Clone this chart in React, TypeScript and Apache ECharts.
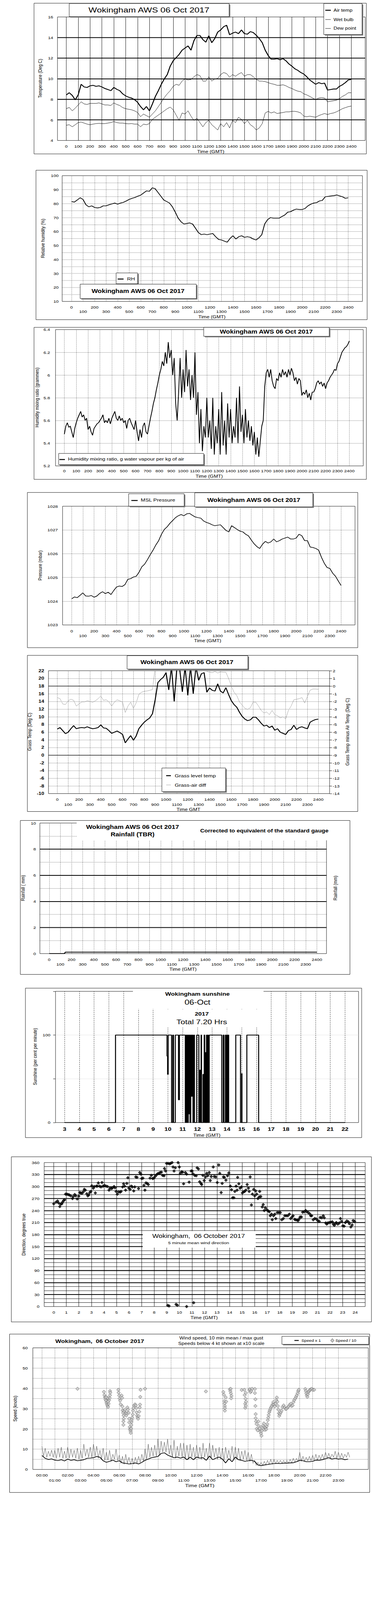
import React, { useEffect, useRef, useState } from 'react';
import * as echarts from 'echarts';

const FONT = '"Liberation Sans", Arial, Helvetica, sans-serif';

// ---------------- DATA ----------------
const HOURS_0_24 = [0, 1, 2, 3, 4, 5, 6, 7, 8, 9, 10, 11, 12, 13, 14, 15, 16, 17, 18, 19, 20, 21, 22, 23, 24];
const HOURS_0_23 = [0, 1, 2, 3, 4, 5, 6, 7, 8, 9, 10, 11, 12, 13, 14, 15, 16, 17, 18, 19, 20, 21, 22, 23];
const HOURS_3_22 = [3, 4, 5, 6, 7, 8, 9, 10, 11, 12, 13, 14, 15, 16, 17, 18, 19, 20, 21, 22];

// Temperatures, one value every 15 minutes from 00:00 to 24:00
const TEMP_STEP_H = 0.25;
const airTemp = [8.43, 8.64, 8.38, 7.95, 8.43, 9.46, 9.2, 9.15, 9.31, 9.36, 9.26, 9.31, 9.2, 9.05, 8.95, 8.84, 9.15, 8.97, 8.84, 8.53, 8.33, 8.2, 8.12, 7.97, 7.71, 7.3, 6.98, 7.3, 6.88, 7.55, 8.28, 8.84, 9.46, 9.98, 10.4, 11.22, 11.74, 12.05, 12.36, 12.77, 12.98, 13.19, 12.77, 13.7, 14.2, 14.2, 13.8, 13.55, 14.17, 13.5, 13.9, 14.53, 14.74, 15.05, 15.2, 14.27, 14.43, 14.53, 14.38, 14.74, 14.38, 14.33, 14.58, 14.48, 14.22, 13.9, 13.5, 12.77, 12.26, 11.9, 11.9, 11.95, 11.84, 11.95, 11.74, 11.43, 11.22, 10.96, 10.81, 10.6, 10.45, 10.19, 9.88, 9.67, 9.46, 9.62, 9.52, 9.57, 8.9, 8.95, 9.0, 9.0, 9.26, 9.41, 9.62, 9.88, 9.93];
const wetBulb = [7.09, 7.21, 6.88, 7.14, 7.45, 7.76, 7.55, 7.5, 7.6, 7.6, 7.6, 7.65, 7.55, 7.45, 7.45, 7.4, 7.65, 7.5, 7.4, 7.19, 7.09, 7.03, 6.98, 6.88, 6.72, 6.31, 6.57, 6.41, 6.26, 6.57, 6.88, 7.29, 7.71, 8.17, 8.53, 8.84, 9.26, 9.46, 9.36, 9.77, 9.98, 9.88, 9.93, 10.19, 10.4, 10.3, 9.77, 9.77, 10.19, 9.77, 9.98, 10.03, 10.4, 10.6, 10.5, 10.14, 10.4, 10.24, 10.45, 10.6, 10.24, 10.4, 10.4, 10.19, 9.93, 9.77, 9.77, 9.72, 9.62, 9.52, 9.46, 9.36, 9.36, 9.41, 9.31, 9.15, 9.05, 8.9, 8.79, 8.74, 8.53, 8.43, 8.28, 8.12, 7.97, 8.12, 8.17, 8.12, 7.76, 7.81, 7.86, 7.91, 8.07, 8.28, 8.43, 8.64, 8.64];
const dewPoint = [5.48, 5.53, 5.33, 5.53, 5.74, 5.79, 5.69, 5.59, 5.53, 5.59, 5.64, 5.66, 5.64, 5.64, 5.69, 5.74, 5.84, 5.74, 5.69, 5.69, 5.64, 5.62, 5.64, 5.59, 5.59, 5.33, 5.59, 5.53, 5.64, 6.05, 6.26, 6.47, 6.67, 6.88, 7.09, 7.24, 6.98, 6.47, 5.95, 6.67, 6.57, 6.88, 6.36, 5.95, 6.16, 5.74, 5.33, 5.74, 5.95, 5.53, 5.28, 5.02, 5.64, 5.33, 5.74, 5.22, 5.95, 5.74, 6.26, 6.05, 5.64, 5.95, 5.53, 5.33, 5.02, 5.22, 5.64, 6.67, 6.83, 6.67, 6.78, 6.62, 6.67, 6.72, 6.78, 6.78, 6.83, 6.83, 6.78, 6.67, 6.36, 6.31, 6.36, 6.31, 6.26, 6.41, 6.52, 6.62, 6.52, 6.62, 6.67, 6.78, 6.93, 7.09, 7.19, 7.29, 7.34];

// Relative humidity, every 15 minutes
const RH_STEP_H = 0.25;
const relHumidity = [81.5, 81.1, 82.6, 84.2, 83.0, 79.2, 77.7, 78.4, 77.3, 76.9, 77.3, 78.4, 78.4, 79.2, 79.8, 80.4, 79.6, 80.4, 80.9, 81.9, 83.0, 83.8, 84.4, 85.3, 86.1, 87.6, 89.1, 88.8, 91.3, 90.7, 88.0, 85.3, 82.6, 81.5, 80.4, 77.7, 73.9, 69.6, 67.0, 65.4, 65.8, 66.2, 65.4, 62.4, 59.3, 57.8, 58.2, 57.8, 58.2, 58.6, 56.3, 54.4, 54.0, 53.2, 52.4, 55.1, 57.0, 54.7, 56.3, 57.0, 55.9, 56.3, 55.9, 54.7, 54.0, 55.5, 57.8, 65.4, 68.5, 70.0, 69.6, 69.6, 69.6, 70.8, 71.9, 73.9, 74.2, 75.4, 76.1, 75.8, 75.8, 76.5, 78.4, 79.6, 80.4, 80.7, 81.9, 82.3, 84.9, 85.2, 85.5, 85.7, 86.2, 85.5, 84.9, 83.8, 84.2];

// Humidity mixing ratio, every 7.5 minutes
const MIX_STEP_H = 0.125;
const mixingRatio = [
  5.48, 5.55, 5.58, 5.54, 5.55, 5.5, 5.45, 5.53,
  5.58, 5.62, 5.65, 5.68, 5.63, 5.65, 5.6, 5.62,
  5.52, 5.55, 5.5, 5.47, 5.53, 5.55, 5.57, 5.58,
  5.6, 5.62, 5.65, 5.58, 5.6, 5.58, 5.62, 5.57,
  5.62, 5.65, 5.68, 5.62, 5.6, 5.64, 5.6, 5.62,
  5.58, 5.6, 5.53, 5.6, 5.62, 5.58, 5.55, 5.52,
  5.6, 5.5, 5.42, 5.52, 5.45, 5.55, 5.58, 5.5,
  5.48, 5.55, 5.62, 5.68, 5.75, 5.8, 5.87, 5.93,
  6.0, 6.05, 6.12, 6.08, 6.2, 6.1, 6.29, 6.15,
  6.22, 6.0, 6.15, 5.75, 5.6, 5.85, 6.15, 5.8,
  6.05, 5.85, 6.22, 5.9, 6.05, 5.78, 6.0, 5.8,
  6.2, 5.65, 5.85, 5.4, 5.7, 5.33, 5.55, 5.45,
  5.8, 5.45, 5.6, 5.35, 5.8, 5.3, 5.55, 5.4,
  5.7, 5.3, 5.85, 5.38, 5.6, 5.3, 5.75, 5.45,
  5.7, 5.4, 5.55, 5.45, 5.8, 5.4, 5.9, 5.5,
  5.65, 5.4, 5.7, 5.45, 5.6, 5.42, 5.55, 5.38,
  5.5, 5.3, 5.45, 5.28, 5.42, 5.55, 5.6, 5.9,
  6.02, 6.05, 5.98, 6.05, 5.95, 5.9, 5.88, 5.97,
  5.95, 6.02, 5.98, 6.05, 6.0, 6.03, 5.98, 6.05,
  6.0, 6.06, 6.02, 5.95, 5.98, 5.92, 5.97, 5.95,
  5.82, 5.85, 5.83, 5.87, 5.8, 5.84, 5.78, 5.85,
  5.85, 5.88, 5.93, 5.95, 5.92, 5.94, 5.9, 5.93,
  5.88, 5.93, 5.95, 5.98, 6.0, 6.02, 6.05, 6.04,
  6.1, 6.12, 6.16, 6.2, 6.22, 6.24, 6.25, 6.27,
  6.3,
];

// MSL pressure, every 15 minutes
const PRESS_STEP_H = 0.25;
const mslPressure = [1024.10, 1024.18, 1024.15, 1024.25, 1024.35, 1024.22, 1024.21, 1024.24, 1024.17, 1024.22, 1024.33, 1024.40, 1024.32, 1024.38, 1024.28, 1024.45, 1024.60, 1024.64, 1024.62, 1024.70, 1024.92, 1024.95, 1025.02, 1025.05, 1025.22, 1025.45, 1025.56, 1025.75, 1025.96, 1026.15, 1026.37, 1026.55, 1026.82, 1027.02, 1027.13, 1027.28, 1027.40, 1027.52, 1027.60, 1027.65, 1027.60, 1027.68, 1027.70, 1027.62, 1027.55, 1027.52, 1027.50, 1027.38, 1027.32, 1027.28, 1027.22, 1027.18, 1027.20, 1027.22, 1027.10, 1026.98, 1026.92, 1027.18, 1027.10, 1027.02, 1026.95, 1026.92, 1026.82, 1026.75, 1026.58, 1026.42, 1026.30, 1026.22, 1026.40, 1026.52, 1026.45, 1026.50, 1026.62, 1026.50, 1026.55, 1026.62, 1026.66, 1026.70, 1026.62, 1026.62, 1026.66, 1026.82, 1026.76, 1026.55, 1026.55, 1026.28, 1026.26, 1026.22, 1026.15, 1025.85, 1025.60, 1025.42, 1025.38, 1025.18, 1025.05, 1024.85, 1024.66];

// Grass temperature and grass-air difference, every 15 minutes
const GRASS_STEP_H = 0.25;
const grassTemp = [6.8, 7.2, 6.4, 5.6, 6.0, 6.9, 7.7, 6.9, 7.1, 7.2, 7.1, 7.4, 7.1, 6.9, 7.0, 7.2, 7.9, 7.1, 7.0, 6.4, 5.7, 6.0, 6.3, 5.9, 5.4, 3.2, 4.2, 5.1, 3.9, 5.0, 6.9, 7.8, 8.6, 9.2, 9.7, 10.8, 14.4, 18.9, 19.7, 20.3, 21.5, 17.0, 23, 14.0, 23, 22.5, 16.5, 23, 15.6, 23, 16.0, 23, 19.5, 21.2, 21.5, 16.4, 17.5, 16.9, 16.7, 18.6, 16.7, 16.2, 17.6, 15.8, 14.2, 13.2, 12.5, 11.2, 10.1, 9.4, 9.0, 9.2, 9.9, 9.9, 9.2, 8.3, 7.6, 7.8, 7.2, 7.6, 6.5, 6.9, 6.0, 5.7, 5.4, 6.4, 6.7, 7.8, 6.7, 7.2, 7.4, 7.1, 6.9, 8.6, 9.0, 9.3, 9.4];
const grassAirDiff = [-1.5, -1.64, -2.33, -2.4, -1.92, -1.71, -1.85, -2.6, -2.33, -2.06, -2.06, -1.92, -1.99, -2.1, -1.92, -1.64, -1.29, -1.85, -1.78, -2.06, -2.6, -2.1, -1.78, -1.92, -2.1, -3.44, -2.6, -2.1, -2.9, -2.2, -1.08, -0.8, -0.67, -0.64, -0.55, -0.46, 2.4, 2.8, 3.0, 3.2, 3.4, 3.0, 3.6, 2.8, 3.8, 3.5, 2.9, 3.7, 2.6, 3.5, 2.8, 3.4, 2.6, 2.9, 2.8, 1.9, 1.8, 1.75, 1.9, 1.7, 1.85, 1.8, 1.8, 1.0, 0.03, -0.8, -1.22, -2.06, -2.47, -2.9, -3.03, -2.82, -2.1, -2.1, -2.6, -3.17, -3.5, -3.37, -3.72, -3.17, -3.72, -3.86, -4.14, -4.0, -4.28, -3.17, -2.6, -1.78, -1.71, -1.64, -1.5, -2.2, -1.36, -0.53, -0.39, -0.39, -0.42];

// Rainfall accumulation [hour, mm]
const rainfallPoints = [[0, 0], [1.36, 0], [1.45, 0.11], [24, 0.11]];

// Sunshine: [hour, per cent] - value holds until the next entry
const sunshineSteps = [
  [3.0, 0], [6.45, 100], [9.94, 76], [9.98, 55], [10.02, 100], [10.25, 0], [10.33, 100], [10.38, 0], [10.5, 100], [10.72, 26], [10.78, 100],
  [11.18, 0], [11.22, 100], [11.26, 0], [11.3, 100], [11.34, 0], [11.38, 100], [11.42, 10], [11.46, 100], [11.5, 0], [11.55, 100], [11.6, 30],
  [11.65, 100], [11.7, 0], [11.76, 100], [11.8, 0], [11.95, 100], [12.1, 0], [12.16, 60], [12.2, 0], [12.25, 100], [12.28, 0], [12.38, 55],
  [12.42, 0], [12.46, 100], [12.5, 0], [12.55, 80], [12.58, 0], [12.62, 100], [12.65, 0], [12.7, 100], [12.74, 0], [12.8, 100], [13.65, 0],
  [13.75, 100], [13.8, 0], [13.9, 100], [13.95, 0], [14.0, 100], [14.04, 0], [14.08, 100], [14.12, 0], [14.6, 100], [14.92, 0], [15.0, 56],
  [15.02, 0], [15.35, 100], [16.15, 0], [22.0, 0],
];

// 5 minute mean wind direction [hour, degrees]
const windDirPoints = [
  [0, 257], [0.18, 261], [0.3, 264], [0.38, 259], [0.48, 250], [0.54, 256], [0.64, 257], [0.7, 261], [0.78, 265], [0.86, 267],
  [0.94, 281], [1.04, 281], [1.14, 280], [1.24, 279], [1.35, 277], [1.49, 270], [1.55, 275], [1.67, 280], [1.75, 277], [1.87, 269], [1.99, 276],
  [2.07, 285], [2.15, 284], [2.25, 283], [2.35, 287], [2.43, 293], [2.51, 291], [2.63, 282], [2.71, 277], [2.79, 279], [2.87, 285], [2.95, 288],
  [3.03, 302], [3.15, 296], [3.23, 300], [3.31, 284], [3.39, 301], [3.47, 301], [3.55, 309], [3.65, 301], [3.76, 299], [3.84, 310], [3.92, 301],
  [4.04, 303], [4.16, 301], [4.28, 300], [4.4, 291], [4.48, 296], [4.6, 295], [4.68, 297], [4.8, 300], [4.88, 297], [4.96, 288],
  [5.06, 281], [5.16, 287], [5.28, 286], [5.36, 288], [5.48, 299], [5.56, 307], [5.64, 301], [5.72, 291], [5.82, 308], [5.9, 322], [5.98, 296],
  [6.08, 293], [6.16, 301], [6.26, 299], [6.37, 289], [6.45, 299], [6.53, 324], [6.63, 323], [6.75, 295], [6.85, 335], [6.93, 331],
  [7.0, 320], [7.1, 321], [7.18, 303], [7.26, 291], [7.34, 309], [7.44, 308], [7.53, 305], [7.67, 321], [7.77, 328], [7.87, 320], [7.97, 321],
  [8.07, 325], [8.17, 329], [8.27, 332], [8.37, 333], [8.47, 335], [8.57, 336], [8.67, 328], [8.78, 327], [8.82, 345], [8.9, 339], [8.98, 358],
  [9.08, 3], [9.18, 1.5], [9.1, 358], [9.22, 357], [9.3, 358], [9.42, 360], [9.5, 349], [9.58, 339], [9.68, 347], [9.74, 5.5], [9.84, 3.3], [9.9, 360],
  [10.0, 349], [10.08, 333], [10.18, 337], [10.26, 336], [10.34, 307], [10.48, 335], [10.58, 331], [10.58, 0], [10.78, 311], [10.94, 339],
  [11.02, 339], [11.08, 332], [11.14, 9.5], [11.22, 328], [11.34, 327], [11.42, 347], [11.52, 344], [11.62, 312], [11.72, 308], [11.78, 305], [11.88, 328], [11.98, 315],
  [12.08, 324], [12.18, 333], [12.26, 327], [12.38, 335], [12.46, 315], [12.54, 325], [12.7, 349], [12.78, 325], [12.9, 324],
  [13.02, 310], [13.14, 354], [13.22, 333], [13.33, 285], [13.41, 308], [13.51, 324], [13.59, 323], [13.71, 316], [13.84, 327], [13.94, 334],
  [14.06, 301], [14.16, 292], [14.24, 272], [14.34, 272], [14.42, 288], [14.52, 301], [14.6, 291], [14.64, 323], [14.74, 307], [14.84, 296], [14.94, 299],
  [15.02, 284], [15.12, 287], [15.2, 288], [15.3, 291], [15.4, 305], [15.5, 296], [15.56, 288], [15.64, 324], [15.74, 254], [15.82, 281], [15.92, 293],
  [16.0, 277], [16.08, 289], [16.16, 281], [16.26, 270], [16.36, 274], [16.4, 288], [16.48, 275], [16.6, 249], [16.68, 255], [16.76, 240], [16.84, 247], [16.96, 242],
  [17.08, 239], [17.16, 237], [17.24, 227], [17.34, 231], [17.4, 217], [17.5, 227], [17.6, 231], [17.68, 220], [17.8, 235], [17.92, 235],
  [18.04, 235], [18.16, 217], [18.28, 220], [18.4, 227], [18.52, 227], [18.64, 227], [18.76, 231], [18.86, 220], [18.98, 224],
  [19.06, 227], [19.18, 218], [19.26, 217], [19.38, 216], [19.46, 215], [19.54, 219], [19.62, 224], [19.72, 224], [19.82, 236], [19.94, 237],
  [20.06, 240], [20.14, 237], [20.26, 235], [20.38, 232], [20.46, 227], [20.54, 227], [20.66, 217], [20.78, 220], [20.9, 219],
  [21.02, 215], [21.14, 213], [21.22, 223], [21.34, 222], [21.46, 227], [21.54, 222], [21.66, 209], [21.74, 206], [21.82, 209], [21.94, 210],
  [22.06, 211], [22.18, 212], [22.26, 206], [22.34, 203], [22.42, 207], [22.5, 210], [22.62, 206], [22.74, 209], [22.83, 220], [22.92, 213],
  [23.02, 202], [23.12, 201], [23.22, 210], [23.34, 214], [23.46, 212], [23.54, 207], [23.66, 199], [23.76, 204], [23.84, 215], [23.96, 213],
];

// Wind speed: 10 min mean every 15 minutes, max gust every 7.5 minutes (knots)
const WIND_STEP_H = 0.25;
const windMean = [6.9, 5.5, 4.9, 5.2, 4.6, 4.4, 4.8, 4.2, 5.1, 4.5, 4.8, 4.3, 4.5, 4.8, 5.5, 5.6, 5.8, 6.4, 6.0, 4.3, 3.5, 4.0, 4.6, 3.8, 4.3, 3.2, 3.0, 2.7, 2.9, 3.2, 2.7, 3.5, 4.5, 5.1, 5.8, 6.1, 6.4, 7.9, 8.2, 7.1, 6.4, 5.8, 6.1, 5.6, 6.1, 4.8, 6.1, 4.8, 6.1, 5.6, 5.8, 4.5, 6.6, 4.8, 5.6, 6.1, 5.1, 3.2, 5.3, 3.8, 6.1, 4.8, 4.5, 4.0, 4.3, 4.5, 4.0, 2.2, 1.9, 2.2, 2.4, 2.7, 2.9, 3.0, 2.9, 3.1, 3.1, 3.2, 3.3, 3.8, 4.5, 4.3, 3.8, 3.8, 4.0, 4.6, 4.5, 4.8, 5.3, 5.8, 5.1, 5.5, 5.1, 5.3, 4.8, 5.1];
const GUST_STEP_H = 0.125;
const windGust = [
  11.5, 6.5, 10.5, 6.0, 9.0, 6.5, 9.5, 6.0,
  9.5, 5.5, 10.5, 6.0, 11.0, 5.5, 9.0, 5.5,
  11.0, 5.5, 10.0, 6.0, 9.5, 5.5, 10.5, 5.0,
  9.5, 5.5, 12.5, 6.5, 10.0, 6.0, 11.0, 6.0,
  12.5, 6.5, 11.5, 5.5, 9.5, 5.0, 10.5, 4.5,
  8.5, 4.5, 9.5, 4.0, 7.5, 5.0, 10.0, 4.5,
  7.0, 3.0, 6.5, 2.5, 7.5, 3.0, 6.0, 2.5,
  5.5, 2.5, 6.0, 3.0, 6.5, 3.5, 7.5, 4.0,
  10.0, 5.0, 12.5, 6.0, 11.0, 6.5, 12.0, 6.5,
  15.0, 7.0, 14.0, 8.5, 13.5, 8.5, 15.0, 7.5,
  12.0, 6.0, 14.5, 5.5, 11.5, 6.5, 13.0, 6.0,
  13.0, 5.5, 12.0, 5.0, 12.5, 6.0, 11.0, 5.5,
  12.0, 5.5, 11.0, 5.0, 13.0, 6.0, 10.5, 5.0,
  13.0, 5.5, 12.0, 6.0, 10.5, 5.0, 11.0, 5.0,
  10.5, 4.5, 11.0, 5.5, 9.5, 5.0, 11.5, 5.0,
  11.0, 5.0, 10.5, 4.5, 9.0, 5.0, 9.5, 4.5,
  8.5, 4.0, 7.5, 3.0, 4.5, 2.0, 3.5, 2.0,
  3.5, 2.0, 4.0, 2.2, 4.5, 2.5, 5.0, 2.5,
  5.0, 2.8, 4.5, 3.0, 4.5, 3.0, 4.5, 3.0,
  4.5, 3.0, 5.0, 3.2, 5.5, 3.5, 5.5, 3.8,
  8.5, 4.0, 6.5, 4.0, 6.0, 4.2, 6.5, 4.2,
  7.0, 4.5, 7.5, 4.5, 7.0, 5.0, 7.5, 5.0,
  8.5, 5.5, 8.0, 5.5, 7.5, 6.0, 9.0, 5.5,
  8.5, 5.5, 8.0, 5.5, 7.5, 6.0, 8.5, 6.0,
];
// Speeds below 4 kt shown at x10 scale [hour, knots x10]
const lowSpeedPoints = [
  [2.76, 39.8],
  [4.81, 38.3], [4.85, 36.7], [4.89, 35.6], [4.93, 34.6], [4.97, 33.9], [5.01, 32.9], [5.05, 32.1], [5.09, 31.4], [5.13, 30.8], [5.17, 32.4],
  [5.21, 34.2], [5.25, 35.3], [5.28, 36.6], [5.28, 38.7], [5.3, 37.9], [5.09, 35.3], [4.97, 35.6], [5.13, 33.4],
  [5.93, 39.3], [5.95, 37.9], [5.99, 36.5], [6.03, 35.0], [6.07, 34.0], [6.11, 32.1], [6.18, 36.5], [6.22, 35.3], [6.24, 31.1], [6.26, 29.1],
  [6.3, 27.9], [6.34, 26.6], [6.34, 25.0], [6.32, 23.7], [6.32, 22.0], [6.38, 28.8], [6.44, 29.5], [6.5, 27.7], [6.54, 26.6], [6.6, 27.7],
  [6.63, 30.6], [6.67, 29.5], [6.73, 27.9], [6.77, 25.0], [6.77, 23.2], [6.81, 20.9], [6.83, 19.8], [6.87, 19.0], [6.89, 18.0], [6.91, 20.1],
  [6.93, 21.9], [6.95, 23.5], [6.97, 24.5], [7.0, 25.6], [7.05, 27.1], [7.07, 29.0], [7.1, 30.3], [7.16, 31.6], [7.22, 32.1], [7.28, 31.6],
  [7.32, 30.3], [7.34, 28.2], [7.38, 26.6], [7.42, 25.8], [7.46, 25.0], [7.51, 26.4], [7.55, 28.5], [7.59, 30.6], [7.61, 32.0], [7.63, 35.8],
  [7.65, 39.3], [8.0, 39.8],
  [12.72, 38.5],
  [14.07, 38.2], [14.11, 36.9], [14.15, 33.7], [14.17, 32.5], [14.19, 31.3], [14.19, 30.3], [14.19, 29.0], [14.25, 35.6], [14.29, 33.5],
  [14.58, 39.5], [14.62, 38.6], [14.66, 37.5], [14.7, 36.3], [14.68, 35.1], [14.64, 39.8],
  [15.5, 39.2], [15.7, 39.3], [15.73, 36.7], [15.79, 34.9], [15.81, 37.8], [15.77, 32.4], [15.83, 33.4], [15.77, 30.4], [15.81, 31.4],
  [16.09, 39.2], [16.13, 39.6], [16.18, 38.1], [16.24, 38.7], [16.3, 39.8], [16.52, 39.7], [16.52, 37.7], [16.56, 34.6], [16.56, 31.3],
  [16.58, 27.3], [16.58, 25.3], [16.61, 23.7], [16.65, 22.4], [16.67, 20.1], [16.73, 19.3], [16.79, 23.7], [16.83, 21.4], [16.89, 20.3],
  [16.95, 18.7], [16.99, 17.7], [17.03, 16.6], [17.06, 19.0], [17.1, 20.6], [17.16, 21.6], [17.22, 22.7], [17.26, 20.8], [17.3, 19.5],
  [17.36, 20.6], [17.4, 19.8], [17.44, 21.4], [17.48, 22.4], [17.52, 24.3], [17.56, 25.6], [17.59, 26.9], [17.63, 28.2], [17.67, 29.0],
  [17.71, 29.8], [17.77, 30.6], [17.83, 31.3], [17.89, 32.1], [17.95, 33.2], [18.0, 32.1], [18.06, 31.1], [18.12, 32.4], [18.18, 34.2],
  [18.22, 35.5], [18.26, 33.4], [18.3, 31.3], [18.34, 29.5], [18.38, 27.7], [18.41, 26.4], [18.47, 27.4], [18.53, 28.2], [18.59, 29.0],
  [18.67, 30.8], [18.75, 31.6], [18.83, 30.6], [18.9, 29.8], [18.98, 30.0], [19.06, 30.6], [19.14, 31.1], [19.22, 31.9], [19.3, 32.4],
  [19.37, 31.3], [19.45, 31.6], [19.51, 33.2], [19.57, 34.2], [19.65, 35.0], [19.71, 35.8], [19.77, 36.6], [19.83, 37.6], [19.88, 38.7],
  [19.92, 39.3], [20.43, 39.7], [20.47, 38.7], [20.51, 37.6], [20.55, 36.6], [20.59, 35.8], [20.63, 37.1], [20.67, 38.2], [20.72, 38.7],
  [20.78, 39.2], [20.86, 39.5], [20.94, 39.8], [21.02, 39.2], [21.12, 39.3],
];

// ---------------- CHART ----------------
const toXY = (values: number[], step: number) => values.map((v, i) => [i * step, v]);

type PanelSpec = { top: number; height: number; option: any };

function makePanel(dy: number) {
  const grid: any[] = [];
  const xAxis: any[] = [];
  const yAxis: any[] = [];
  const series: any[] = [];
  const g: any[] = [];

  const lbl = (extra: any = {}) => ({ color: '#000', fontFamily: FONT, fontSize: 12, hideOverlap: false, ...extra });
  const addGrid = (left: number, top: number, width: number, height: number) => {
    grid.push({ left, top: top - dy, width, height, show: true, borderColor: '#000', borderWidth: 1, backgroundColor: 'transparent', containLabel: false, outerBoundsMode: 'none' });
    return grid.length - 1;
  };
  const addX = (gridIndex: number, min: number, max: number, ticks: number[], formatter: any, labelExtra: any = {}) => {
    xAxis.push({
      type: 'value', gridIndex, min, max, position: 'bottom',
      axisLine: { show: false },
      axisTick: { show: false, customValues: ticks },
      splitLine: { show: false },
      axisLabel: { customValues: ticks, formatter, ...lbl(labelExtra) },
    });
    return xAxis.length - 1;
  };
  const addY = (gridIndex: number, cfg: any) => {
    yAxis.push({ type: 'value', gridIndex, position: 'left', axisLine: { show: false }, axisTick: { show: false }, ...cfg });
    return yAxis.length - 1;
  };
  const line = (xi: number, yi: number, data: any[], color: string, width: number, extra: any = {}) => {
    series.push({
      type: 'line', xAxisIndex: xi, yAxisIndex: yi, data, showSymbol: false, symbol: 'none',
      lineStyle: { color, width }, itemStyle: { color }, silent: true, animation: false, clip: true, z: 10, ...extra,
    });
  };
  const scatter = (xi: number, yi: number, data: any[], itemStyle: any) => {
    series.push({
      type: 'scatter', xAxisIndex: xi, yAxisIndex: yi, data, symbol: 'diamond', symbolSize: [9, 11],
      itemStyle, silent: true, animation: false, z: 11,
    });
  };
  const vLines = (xi: number, yi: number, ticks: number[], lineStyle: any, key = 'xAxis') => {
    series.push({
      type: 'line', xAxisIndex: xi, yAxisIndex: yi, data: [], silent: true, z: 1,
      markLine: {
        silent: true, symbol: ['none', 'none'], label: { show: false }, lineStyle, animation: false, z: 1,
        emphasis: { disabled: true },
        data: ticks.map((t) => ({ [key]: t })),
      },
    });
  };

  const rect = (x: number, y: number, w: number, h: number, style: any, z: number) => ({ type: 'rect', shape: { x, y: y - dy, width: w, height: h }, style, z, silent: true });
  const frame = (x: number, y: number, w: number, h: number) => g.push(rect(x, y, w, h, { fill: 'none', stroke: '#000', lineWidth: 1 }, 5));
  const cover = (x: number, y: number, w: number, h: number) => g.push(rect(x, y, w, h, { fill: '#fff' }, 40));
  const box = (x: number, y: number, w: number, h: number) => {
    g.push(rect(x + 3, y + 3, w, h, { fill: '#808080' }, 41));
    g.push(rect(x, y, w, h, { fill: '#fff', stroke: '#000', lineWidth: 1 }, 42));
  };
  const txt = (x: number, y: number, text: string, size: number, opt: any = {}) => g.push({
    type: 'text', x, y: y - dy, rotation: opt.rot || 0, z: 45, silent: true,
    style: {
      text, fill: opt.color || '#000', fontSize: size, fontFamily: FONT, fontWeight: opt.bold ? 'bold' : 'normal',
      align: opt.align || 'center', verticalAlign: 'middle', textAlign: opt.align || 'center', textVerticalAlign: 'middle',
    },
  });
  const ytitle = (x: number, y: number, text: string) => txt(x, y, text, 13, { rot: Math.PI / 2 });
  const seg = (x1: number, y1: number, x2: number, y2: number, w: number, color = '#000') => g.push({
    type: 'line', shape: { x1, y1: y1 - dy, x2, y2: y2 - dy }, style: { stroke: color, lineWidth: w }, z: 45, silent: true,
  });
  const poly = (pts: number[][], style: any) => g.push({
    type: 'polygon', z: 45, silent: true, shape: { points: pts.map(([x, y]) => [x, y - dy]) }, style,
  });
  const option = () => ({
    animation: false,
    backgroundColor: '#fff',
    textStyle: { fontFamily: FONT },
    grid, xAxis, yAxis, series,
    graphic: { elements: g },
  });
  return { lbl, addGrid, addX, addY, line, scatter, vLines, frame, cover, box, txt, ytitle, seg, poly, option };
}

const DOT = { color: '#000', width: 1, type: [1, 2] };
const SOLID = { color: '#000', width: 1, type: 'solid' };
const plain = (v: number) => String(Math.round(v));
const hundreds = (v: number) => String(Math.round(v) * 100);
const twoRow = (f: (v: number) => string) => (v: number) => (Math.round(v) % 2 === 1 ? '\n' : '') + f(v);
const hhmm = (v: number) => String(Math.round(v)).padStart(2, '0') + ':00';
const TITLE = 'Wokingham AWS 06 Oct 2017';
const everyN = (n: number) => (v: number) => (Math.round(v) % n === 0 ? String(Math.round(v)) : '');

function buildPanels(): PanelSpec[] {
  const panels: PanelSpec[] = [];

  // ===== Panel 1: temperatures =====
  {
    const top = 0, height = 500;
    const p = makePanel(top);
    const gi = p.addGrid(147, 53, 787, 386);
    const xi = p.addX(gi, -0.744, 25.17, HOURS_0_24, hundreds, { margin: 12 });
    const yi = p.addY(gi, {
      min: 4, max: 16, interval: 2, axisLabel: p.lbl({ margin: 11, formatter: plain }),
      splitLine: { show: true, showMinLine: false, showMaxLine: false, lineStyle: { color: '#000', width: 2.5 } },
    });
    p.vLines(xi, yi, HOURS_0_24, SOLID);
    p.line(xi, yi, toXY(dewPoint, TEMP_STEP_H), '#000', 1);
    p.line(xi, yi, toXY(wetBulb, TEMP_STEP_H), '#000', 1);
    p.line(xi, yi, toXY(airTemp, TEMP_STEP_H), '#000', 2.5);
    p.frame(87, 10, 850, 471);
    p.box(177, 11, 409, 41);
    p.txt(381, 31, TITLE, 23);
    p.box(828, 11, 98, 97);
    p.seg(832, 32, 846, 32, 3); p.txt(853, 32, 'Air temp', 13, { align: 'left' });
    p.seg(832, 61, 846, 61, 1); p.txt(853, 61, 'Wet bulb', 13, { align: 'left' });
    p.seg(832, 89, 846, 89, 1); p.txt(853, 89, 'Dew point', 13, { align: 'left' });
    p.ytitle(103, 245, 'Temperature (Deg C)');
    p.txt(539, 474, 'Time (GMT)', 13);
    panels.push({ top, height, option: p.option() });
  }

  // ===== Panel 2: relative humidity =====
  {
    const top = 500, height = 510;
    const p = makePanel(top);
    const gi = p.addGrid(159, 549, 768, 393);
    const xi = p.addX(gi, -0.81, 25.23, HOURS_0_24, twoRow(hundreds), { margin: 11, lineHeight: 14 });
    const yi = p.addY(gi, {
      min: 10, max: 100, interval: 5, axisLabel: p.lbl({ margin: 9, formatter: everyN(10) }),
      splitLine: { show: true, showMinLine: false, showMaxLine: false, lineStyle: DOT },
    });
    p.vLines(xi, yi, HOURS_0_24, DOT);
    p.line(xi, yi, toXY(relHumidity, RH_STEP_H), '#000', 2);
    p.frame(92, 532, 847, 467);
    p.box(297, 853, 55, 34);
    p.seg(301, 872, 316, 872, 3); p.txt(325, 872, 'RH', 14, { align: 'left' });
    p.box(205, 888, 297, 45);
    p.txt(353, 910, TITLE, 17, { bold: true });
    p.ytitle(110, 745, 'Relative humidity (%)');
    p.txt(542, 991, 'Time (GMT)', 13);
    panels.push({ top, height, option: p.option() });
  }

  // ===== Panel 3: mixing ratio =====
  {
    const top = 1010, height = 500;
    const p = makePanel(top);
    const gi = p.addGrid(142, 1030, 787, 426);
    const xi = p.addX(gi, -0.743, 25.17, HOURS_0_24, hundreds, { margin: 9 });
    const yi = p.addY(gi, {
      min: 5.2, max: 6.4, interval: 0.2,
      axisLabel: p.lbl({ margin: 14, formatter: (v: number) => String(Math.round(v * 10) / 10) }),
      splitLine: { show: true, showMinLine: false, showMaxLine: false, lineStyle: DOT },
    });
    p.vLines(xi, yi, HOURS_0_24, DOT);
    p.line(xi, yi, toXY(mixingRatio, MIX_STEP_H), '#000', 2);
    p.frame(87, 1023, 850, 475);
    p.box(521, 1023, 321, 28);
    p.txt(681, 1037, TITLE, 17, { bold: true });
    p.box(150, 1417, 371, 35);
    p.seg(152, 1436, 166, 1436, 3);
    p.txt(174, 1435, 'Humidity mixing ratio, g water vapour per kg of air', 13.5, { align: 'left' });
    p.ytitle(95, 1242, 'Humidity mixing ratio (grammes)');
    p.txt(535, 1488, 'Time (GMT)', 13);
    panels.push({ top, height, option: p.option() });
  }

  // ===== Panel 4: pressure =====
  {
    const top = 1510, height = 530;
    const p = makePanel(top);
    const gi = p.addGrid(160, 1582, 748, 371);
    const xi = p.addX(gi, -0.81, 25.24, HOURS_0_24, twoRow(hundreds), { margin: 12, lineHeight: 14 });
    const yi = p.addY(gi, {
      min: 1023, max: 1028, interval: 1, axisLabel: p.lbl({ margin: 12, formatter: plain }),
      splitLine: { show: true, showMinLine: false, showMaxLine: false, lineStyle: DOT },
    });
    p.vLines(xi, yi, HOURS_0_24, DOT);
    p.line(xi, yi, toXY(mslPressure, PRESS_STEP_H), '#000', 1.8);
    p.frame(70, 1539, 845, 485);
    p.box(329, 1543, 142, 39);
    p.seg(336, 1564, 352, 1564, 3); p.txt(360, 1563, 'MSL Pressure', 14, { align: 'left' });
    p.box(498, 1540, 302, 44);
    p.txt(649, 1562, TITLE, 17, { bold: true });
    p.ytitle(103, 1767, 'Pressure (mbar)');
    p.txt(531, 2002, 'Time (GMT)', 13);
    panels.push({ top, height, option: p.option() });
  }

  // ===== Panel 5: grass temperature =====
  {
    const top = 2040, height = 505;
    const p = makePanel(top);
    const gi = p.addGrid(124, 2096, 719, 384);
    const xi = p.addX(gi, -0.81, 25.04, HOURS_0_24, twoRow(hundreds), { margin: 11, lineHeight: 15 });
    const yl = p.addY(gi, {
      min: -10, max: 22, interval: 2, axisLabel: p.lbl({ margin: 11, fontWeight: 'bold', fontSize: 13, formatter: plain }),
      splitLine: { show: true, showMinLine: false, showMaxLine: false, lineStyle: DOT },
    });
    const yr = p.addY(gi, {
      min: -14, max: 2, interval: 1, position: 'right',
      axisTick: { show: true, length: 6, lineStyle: { color: '#000' } },
      axisLabel: p.lbl({ margin: 8, formatter: plain }), splitLine: { show: false },
    });
    p.vLines(xi, yl, HOURS_0_24, DOT);
    p.vLines(xi, yl, [18, 0], { color: '#000', width: 1.5, type: 'solid' }, 'yAxis');
    p.line(xi, yr, toXY(grassAirDiff, GRASS_STEP_H), '#999', 1);
    p.line(xi, yl, toXY(grassTemp, GRASS_STEP_H), '#000', 2.5);
    p.frame(70, 2048, 845, 488);
    p.box(325, 2049, 309, 42);
    p.txt(478, 2069, TITLE, 17, { bold: true });
    p.box(414, 2400, 163, 74);
    p.seg(425, 2424, 437, 2424, 3); p.txt(447, 2424, 'Grass level temp', 14, { align: 'left' });
    p.seg(425, 2453, 437, 2453, 1, '#999'); p.txt(447, 2453, 'Grass-air diff', 14, { align: 'left' });
    p.ytitle(76, 2287, 'Grass Temp (Deg C)');
    p.ytitle(889, 2287, 'Grass Temp minus Air Temp (Deg C)');
    p.txt(482, 2530, 'Time GMT', 13);
    panels.push({ top, height, option: p.option() });
  }

  // ===== Panel 6: rainfall =====
  {
    const top = 2545, height = 515;
    const p = makePanel(top);
    const gi = p.addGrid(102, 2572, 733, 408);
    const xi = p.addX(gi, -0.836, 24.86, HOURS_0_24, twoRow(hundreds), { margin: 11, lineHeight: 15 });
    const yd = p.addY(gi, {
      min: 0, max: 10, interval: 1, axisLabel: { show: false },
      splitLine: { show: true, showMinLine: false, showMaxLine: false, lineStyle: DOT },
    });
    const yt = p.addY(gi, {
      min: 0, max: 10, interval: 2, axisLabel: p.lbl({ margin: 10, formatter: plain }),
      splitLine: { show: true, showMinLine: false, showMaxLine: false, lineStyle: { color: '#000', width: 2.5 } },
    });
    p.vLines(xi, yd, HOURS_0_24, DOT);
    p.line(xi, yt, rainfallPoints, '#000', 2.5);
    p.frame(52, 2564, 843, 481);
    p.cover(196, 2566, 642, 60);
    p.txt(339, 2584, TITLE, 17, { bold: true });
    p.txt(339, 2607, 'Rainfall (TBR)', 17, { bold: true });
    p.txt(676, 2596, 'Corrected to equivalent of the standard gauge', 15, { bold: true });
    p.ytitle(59, 2775, 'Rainfall ( mm)');
    p.ytitle(858, 2775, 'Rainfall (mm)');
    p.txt(468, 3029, 'Time (GMT)', 13);
    panels.push({ top, height, option: p.option() });
  }

  // ===== Panel 7: sunshine =====
  {
    const top = 3060, height = 510;
    const p = makePanel(top);
    const gi = p.addGrid(142, 3098, 775, 410);
    const xi = p.addX(gi, 2.385, 22.92, HOURS_3_22, plain, { margin: 12, fontSize: 16, fontWeight: 'bold' });
    const yi = p.addY(gi, {
      min: 0, max: 150, interval: 50,
      axisTick: { show: true, length: 6, lineStyle: { color: '#000' } },
      axisLabel: p.lbl({ margin: 13, formatter: (v: number) => (v === 0 || v === 100 ? String(v) : '') }),
      splitLine: { show: true, showMinLine: false, showMaxLine: false, lineStyle: { color: '#aaa', width: 1, type: [1, 2] } },
    });
    p.vLines(xi, yi, HOURS_3_22, { color: '#000', width: 1, type: [3, 3] });
    p.line(xi, yi, sunshineSteps, '#000', 2.5, { step: 'end' });
    p.frame(65, 3088, 860, 467);
    p.cover(340, 3096, 334, 57);
    p.cover(420, 3156, 254, 55);
    p.txt(505, 3106, 'Wokingham sunshine', 16, { bold: true });
    p.txt(505, 3132, '06-Oct', 22);
    p.txt(516, 3168, '2017', 16, { bold: true });
    p.txt(516, 3194, 'Total 7.20 Hrs', 21);
    p.ytitle(90, 3302, 'Sunshine (per cent per minute)');
    p.txt(529, 3548, 'Time (GMT)', 13);
    panels.push({ top, height, option: p.option() });
  }

  // ===== Panel 8: wind direction =====
  {
    const top = 3570, height = 580;
    const p = makePanel(top);
    const gi = p.addGrid(113, 3633, 821, 450);
    const xi = p.addX(gi, -0.763, 24.8, HOURS_0_24, plain, { margin: 12 });
    const yi = p.addY(gi, {
      min: 0, max: 360, interval: 10, axisLabel: p.lbl({ margin: 12, formatter: everyN(30) }),
      splitLine: { show: true, showMinLine: false, showMaxLine: false, lineStyle: { color: '#000', width: 1 } },
    });
    const yk = p.addY(gi, {
      min: 0, max: 360, interval: 30, axisLabel: { show: false },
      splitLine: { show: true, showMinLine: false, showMaxLine: false, lineStyle: { color: '#000', width: 2.5 } },
    });
    p.vLines(xi, yi, HOURS_0_24, SOLID);
    p.scatter(xi, yk, windDirPoints, { color: '#000' });
    p.frame(29, 3615, 921, 516);
    p.cover(365, 3847, 289, 52);
    p.txt(508, 3862, 'Wokingham,  06 October 2017', 17.5);
    p.txt(508, 3883, '5 minute mean wind direction', 12);
    p.ytitle(61, 3858, 'Direction, degrees true');
    p.txt(522, 4118, 'Time (GMT)', 13);
    panels.push({ top, height, option: p.option() });
  }

  // ===== Panel 9: wind speed =====
  {
    const top = 4150, height = 850;
    const p = makePanel(top);
    const gi = p.addGrid(84, 4212, 858, 380);
    const xi = p.addX(gi, -0.705, 25.32, HOURS_0_23, twoRow(hhmm), { margin: 11, lineHeight: 15 });
    const yi = p.addY(gi, {
      min: 0, max: 60, interval: 5, axisLabel: p.lbl({ margin: 13, formatter: everyN(10) }),
      splitLine: { show: true, showMinLine: false, showMaxLine: false, lineStyle: DOT },
    });
    p.vLines(xi, yi, HOURS_0_23, DOT);
    p.line(xi, yi, toXY(windGust, GUST_STEP_H), '#555', 1);
    p.line(xi, yi, toXY(windMean, WIND_STEP_H), '#000', 2);
    p.scatter(xi, yi, lowSpeedPoints, { color: '#c8c8c8', borderColor: '#444', borderWidth: 1 });
    p.frame(24.5, 4169, 921, 495);
    p.txt(255, 4191, 'Wokingham,  06 October 2017', 16, { bold: true });
    p.txt(566, 4182, 'Wind speed, 10 min mean / max gust', 13);
    p.txt(566, 4198, 'Speeds below 4 kt shown at x10 scale', 13);
    p.box(721, 4176, 222, 25);
    p.seg(753, 4189, 764, 4189, 3); p.txt(771, 4189, 'Speed x 1', 11, { align: 'left' });
    p.poly([[850, 4183], [854.5, 4189], [850, 4195], [845.5, 4189]], { fill: '#c8c8c8', stroke: '#444', lineWidth: 1 });
    p.txt(858, 4189, 'Speed / 10', 11, { align: 'left' });
    p.ytitle(39, 4402, 'Speed (knots)');
    p.txt(511, 4642, 'Time (GMT)', 14);
    panels.push({ top, height, option: p.option() });
  }

  return panels;
}

const PANELS = buildPanels();
const PAGE_H = 5000;

function Panel({ spec }: { spec: PanelSpec }) {
  const ref = useRef<HTMLDivElement>(null);
  useEffect(() => {
    if (!ref.current) return;
    const chart = echarts.init(ref.current, undefined, { renderer: 'svg' });
    chart.setOption(spec.option);
    return () => chart.dispose();
  }, [spec]);
  return <div ref={ref} style={{ position: 'absolute', left: 0, top: spec.top, width: 1000, height: spec.height }} />;
}

export default function App() {
  // If the visible viewport is shorter than the 5000px page, squeeze the page so all of it stays in view.
  const [k] = useState(() => {
    const h = typeof window !== 'undefined' ? window.innerHeight : PAGE_H;
    return h > 0 && h < PAGE_H ? h / PAGE_H : 1;
  });
  useEffect(() => {
    document.body.style.margin = '0';
  }, []);
  return (
    <div style={{ position: 'relative', width: 1000, height: PAGE_H, background: '#fff', overflow: 'hidden' }}>
      <div style={{ position: 'absolute', left: 0, top: 0, width: 1000, height: PAGE_H, transform: k < 1 ? `scaleY(${k})` : undefined, transformOrigin: '0 0' }}>
        {PANELS.map((s, i) => <Panel key={i} spec={s} />)}
      </div>
    </div>
  );
}
